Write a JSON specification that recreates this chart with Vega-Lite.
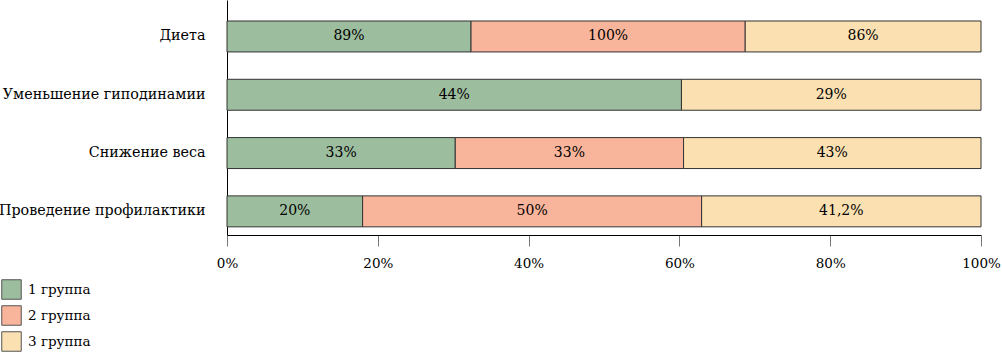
{
  "$schema": "https://vega.github.io/schema/vega-lite/v6.json",
  "width": 754,
  "height": 235,
  "autosize": {"type": "none"},
  "padding": {"left": 227, "top": 0, "right": 21, "bottom": 118},
  "config": {
    "font": "DejaVu Serif",
    "view": {"stroke": null},
    "axisY": {"labelFont": "DejaVu Serif", "labelColor": "#000", "labelFontSize": 14.3, "labelLimit": 0},
    "axisX": {"labelFont": "DejaVu Serif", "labelColor": "#000", "labelFontSize": 13.5},
    "legend": {"labelFont": "DejaVu Serif", "labelColor": "#000", "labelFontSize": 13.5}
  },
  "data": {
    "values": [
      {"cat": "Диета", "group": "1 группа", "value": 89, "label": "89%"},
      {"cat": "Диета", "group": "2 группа", "value": 100, "label": "100%"},
      {"cat": "Диета", "group": "3 группа", "value": 86, "label": "86%"},
      {"cat": "Уменьшение гиподинамии", "group": "1 группа", "value": 44, "label": "44%"},
      {"cat": "Уменьшение гиподинамии", "group": "3 группа", "value": 29, "label": "29%"},
      {"cat": "Снижение веса", "group": "1 группа", "value": 33, "label": "33%"},
      {"cat": "Снижение веса", "group": "2 группа", "value": 33, "label": "33%"},
      {"cat": "Снижение веса", "group": "3 группа", "value": 43, "label": "43%"},
      {"cat": "Проведение профилактики", "group": "1 группа", "value": 20, "label": "20%"},
      {"cat": "Проведение профилактики", "group": "2 группа", "value": 50, "label": "50%"},
      {"cat": "Проведение профилактики", "group": "3 группа", "value": 41.2, "label": "41,2%"}
    ]
  },
  "transform": [
    {"stack": "value", "groupby": ["cat"], "sort": [{"field": "group"}], "as": ["v0", "v1"], "offset": "normalize"},
    {"calculate": "(datum.v0 + datum.v1) / 2", "as": "mid"}
  ],
  "encoding": {
    "y": {
      "field": "cat",
      "type": "nominal",
      "sort": ["Диета", "Уменьшение гиподинамии", "Снижение веса", "Проведение профилактики"],
      "scale": {"paddingInner": 0.469, "paddingOuter": 0.25, "align": 0.72},
      "axis": {"title": null, "ticks": false, "labelPadding": 22, "domainColor": "#000"}
    }
  },
  "layer": [
    {
      "mark": {"type": "bar", "stroke": "#333", "strokeWidth": 1},
      "encoding": {
        "x": {
          "field": "v0",
          "type": "quantitative",
          "scale": {"domain": [0, 1]},
          "axis": {
            "title": null,
            "format": "%",
            "values": [0, 0.2, 0.4, 0.6, 0.8, 1],
            "grid": false,
            "tickSize": 11,
            "tickColor": "#777",
            "domainColor": "#000",
            "labelPadding": 10,
            "labelFlush": false
          }
        },
        "x2": {"field": "v1"},
        "color": {
          "field": "group",
          "type": "nominal",
          "scale": {"domain": ["1 группа", "2 группа", "3 группа"], "range": ["#9dbd9f", "#f9b59b", "#fbe1b2"]},
          "legend": {
            "title": null,
            "orient": "none",
            "legendX": -226,
            "legendY": 279,
            "symbolType": "square",
            "symbolSize": 380,
            "symbolStrokeColor": "#555",
            "symbolStrokeWidth": 1,
            "rowPadding": 1,
            "labelOffset": 6
          }
        }
      }
    },
    {
      "mark": {"type": "text", "fontSize": 14, "color": "#000", "font": "DejaVu Serif"},
      "encoding": {
        "x": {"field": "mid", "type": "quantitative"},
        "text": {"field": "label"}
      }
    }
  ]
}
